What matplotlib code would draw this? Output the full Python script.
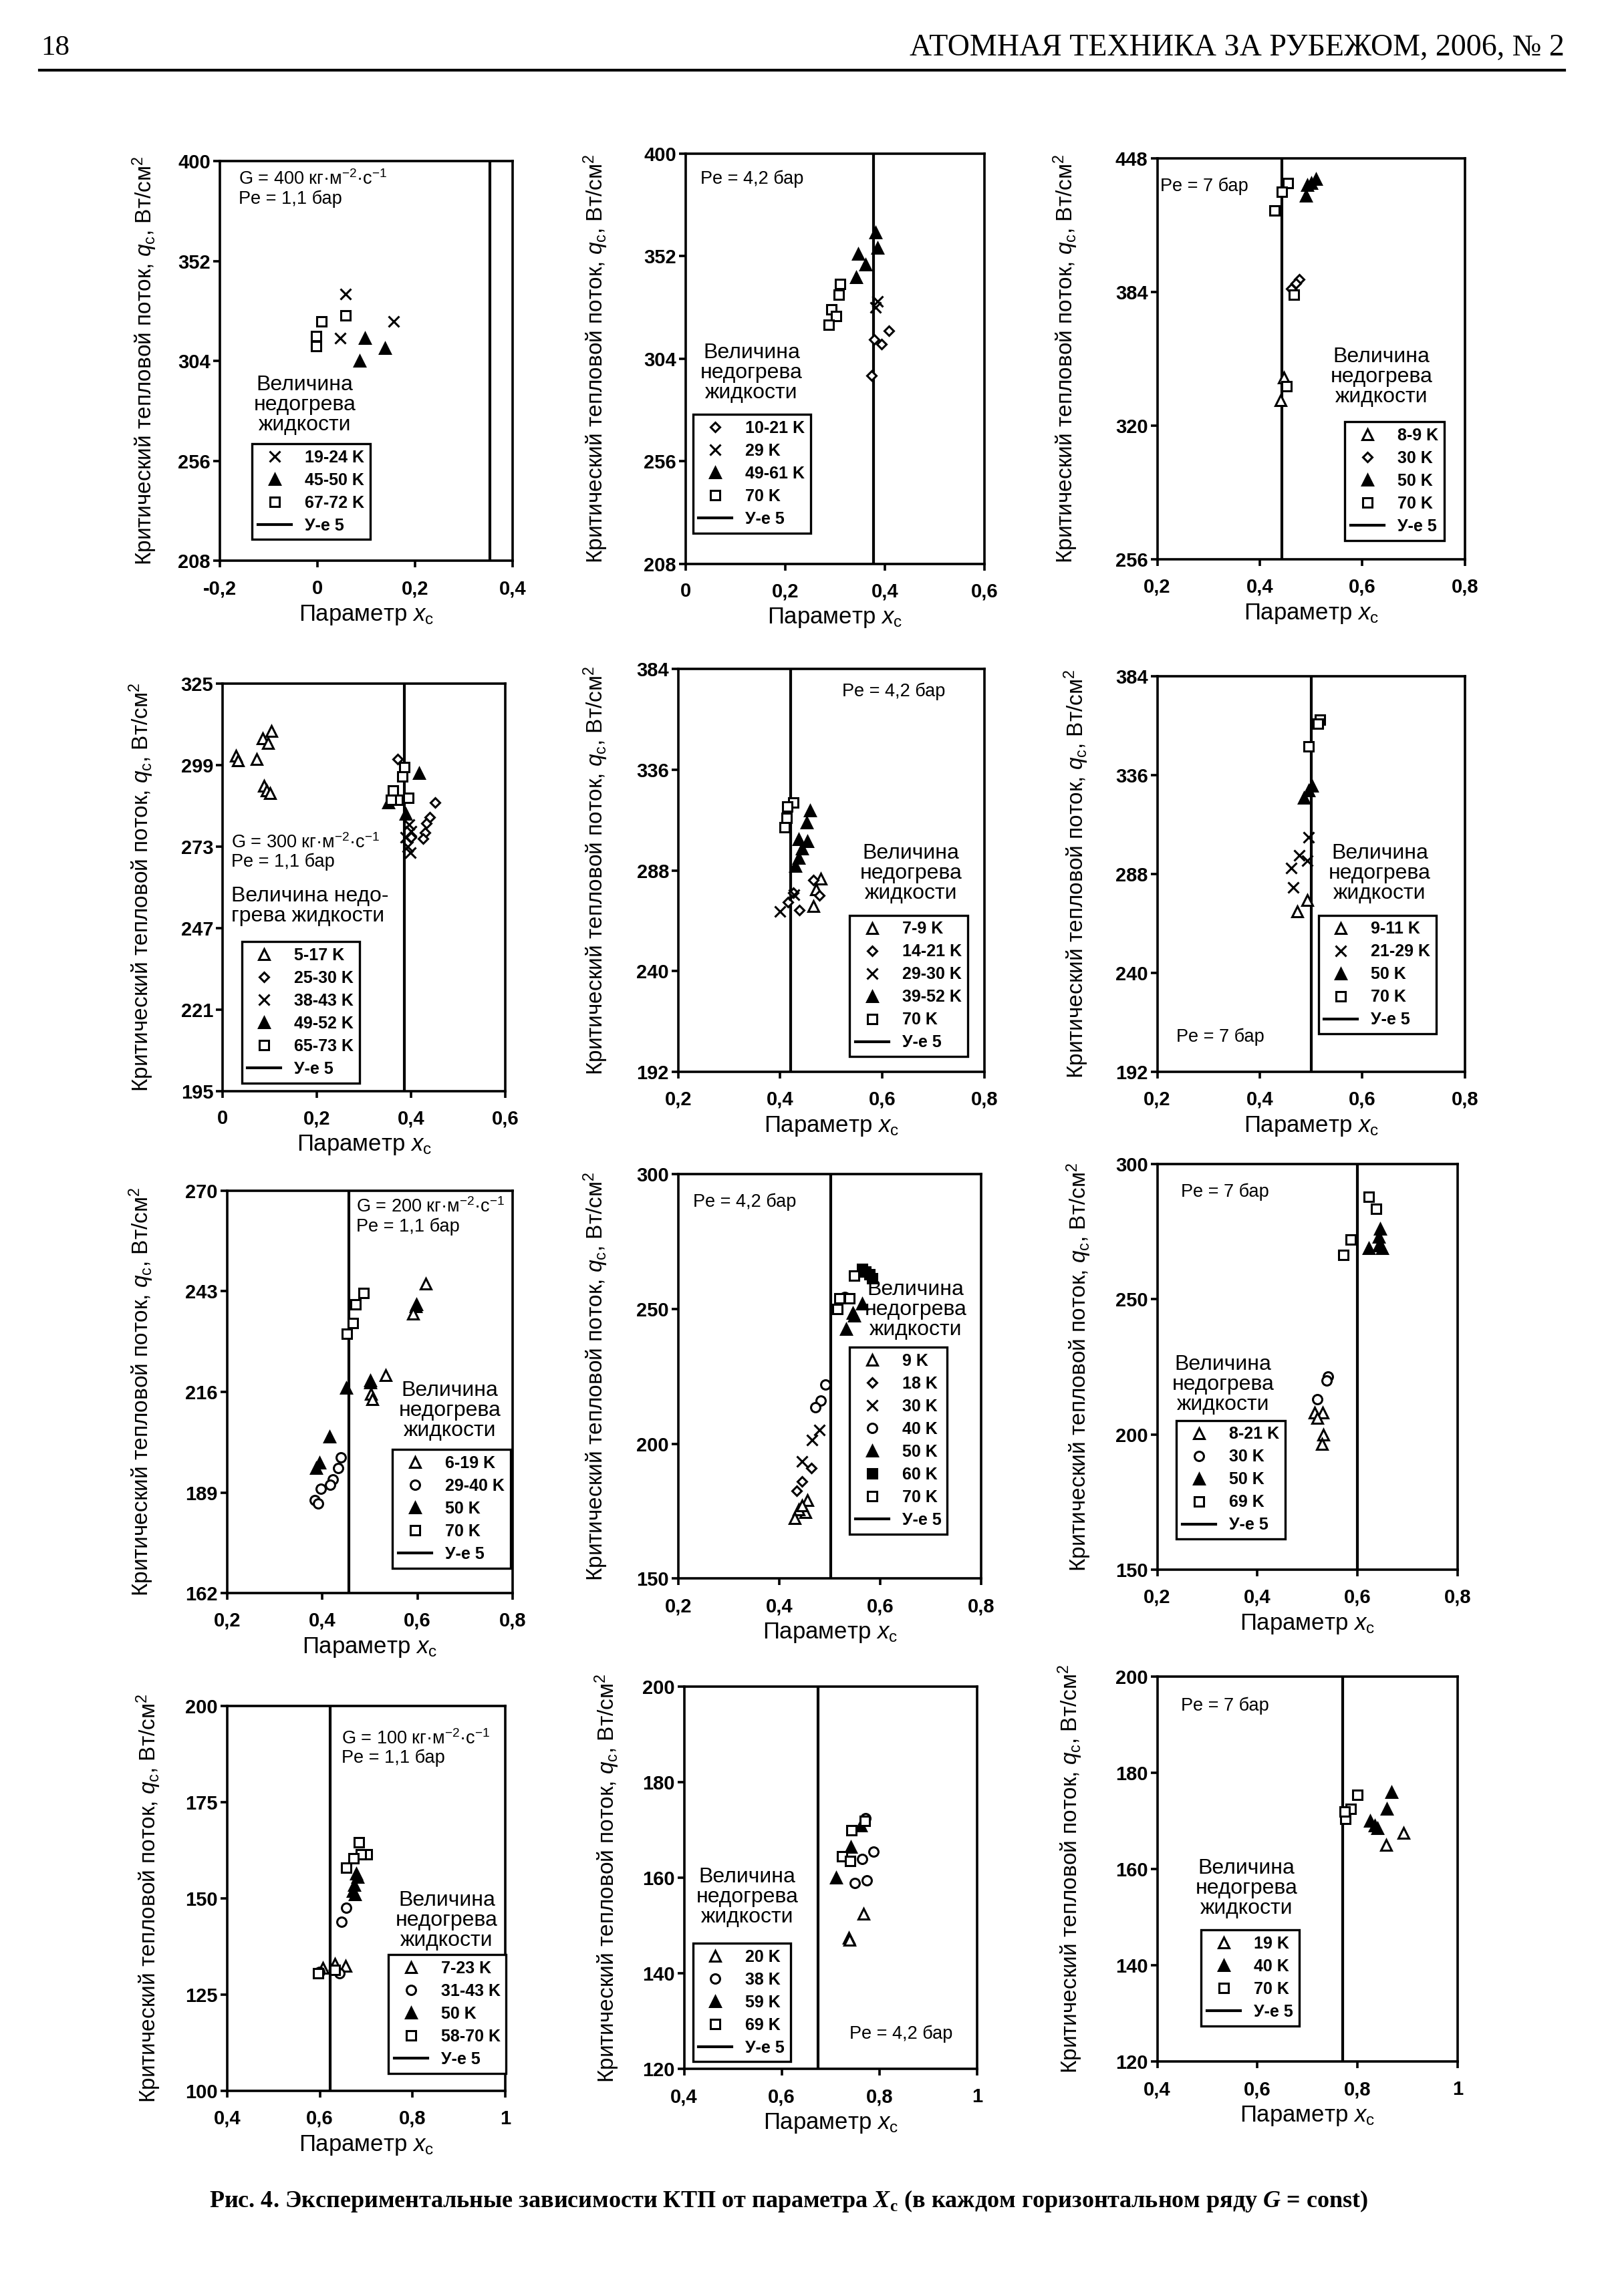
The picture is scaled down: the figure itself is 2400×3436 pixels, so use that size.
import matplotlib
matplotlib.use("Agg")
import matplotlib.pyplot as plt
from matplotlib.lines import Line2D

plt.rcParams.update({
    "font.family": ["Liberation Sans", "DejaVu Sans"],
    "mathtext.fontset": "custom",
    "mathtext.rm": "Liberation Sans",
    "mathtext.it": "Liberation Sans:italic",
    "mathtext.bf": "Liberation Serif:bold",
    "mathtext.bfit": "Liberation Serif:bold:italic",
})

# ------------------------------------------------------------------ data
# Panel 1: G = 400, Pe = 1.1 bar
p1_eq5 = 0.353
p1_x_cross = [0.057, 0.156, 0.047]
p1_q_cross = [336, 323, 315]
p1_x_trif = [0.098, 0.138, 0.086]
p1_q_trif = [315, 310, 304]
p1_x_sq = [0.009, -0.002, -0.002, 0.057]
p1_q_sq = [323, 316, 311, 326]

# Panel 2: G = 400, Pe = 4.2 bar
p2_eq5 = 0.377
p2_x_dia = [0.408, 0.379, 0.393, 0.373]
p2_q_dia = [317, 313, 311, 296]
p2_x_cross = [0.386, 0.381]
p2_q_cross = [331, 328]
p2_x_trif = [0.381, 0.385, 0.347, 0.361, 0.343]
p2_q_trif = [363, 356, 353, 348, 342]
p2_x_sq = [0.310, 0.307, 0.293, 0.302, 0.287]
p2_q_sq = [339, 334, 327, 324, 320]

# Panel 3: G = 400, Pe = 7 bar
p3_eq5 = 0.443
p3_x_trio = [0.447, 0.441]
p3_q_trio = [343, 332]
p3_x_dia = [0.477, 0.470, 0.462]
p3_q_dia = [390, 388, 385.5]
p3_x_trif = [0.509, 0.500, 0.492, 0.490]
p3_q_trif = [438, 436, 435, 430]
p3_x_sq = [0.455, 0.443, 0.429, 0.466, 0.452]
p3_q_sq = [436, 432, 423, 382.5, 339]

# Panel 4: G = 300, Pe = 1.1 bar
p4_eq5 = 0.386
p4_x_trio = [0.028, 0.032, 0.072, 0.085, 0.096, 0.103, 0.088, 0.094, 0.100]
p4_q_trio = [302, 300.5, 301, 307.5, 306, 310, 292.5, 291, 290]
p4_x_dia = [0.451, 0.440, 0.433, 0.430, 0.425, 0.371, 0.400]
p4_q_dia = [287, 282.5, 280.5, 277.5, 275.5, 301, 276]
p4_x_cross = [0.395, 0.400, 0.388, 0.398, 0.392]
p4_q_cross = [280, 278, 276, 271, 273]
p4_x_trif = [0.417, 0.388, 0.352]
p4_q_trif = [296.5, 283.5, 287]
p4_x_sq = [0.386, 0.382, 0.362, 0.371, 0.357, 0.394]
p4_q_sq = [298.5, 295.5, 291, 288, 288, 288.5]

# Panel 5: G = 300, Pe = 4.2 bar
p5_eq5 = 0.420
p5_x_trio = [0.479, 0.470, 0.465]
p5_q_trio = [284, 279, 271]
p5_x_dia = [0.465, 0.476, 0.426, 0.415, 0.437]
p5_q_dia = [283.5, 276, 277.5, 273, 269]
p5_x_cross = [0.400, 0.427]
p5_q_cross = [268.5, 276.5]
p5_x_trif = [0.458, 0.452, 0.436, 0.453, 0.443, 0.436, 0.430]
p5_q_trif = [316.5, 311, 303, 302, 298.5, 294, 290]
p5_x_sq = [0.426, 0.414, 0.413, 0.408]
p5_q_sq = [320.5, 318.5, 313, 308.5]

# Panel 6: G = 300, Pe = 7 bar
p6_eq5 = 0.501
p6_x_trio = [0.492, 0.473]
p6_q_trio = [275.5, 270]
p6_x_cross = [0.495, 0.477, 0.493, 0.462, 0.465]
p6_q_cross = [306, 297, 294.5, 291, 281.5]
p6_x_trif = [0.502, 0.495, 0.486]
p6_q_trif = [331, 328.5, 325]
p6_x_sq = [0.518, 0.514, 0.495]
p6_q_sq = [363, 361, 350]

# Panel 7: G = 200, Pe = 1.1 bar
p7_eq5 = 0.456
p7_x_trio = [0.617, 0.596, 0.590, 0.533, 0.501, 0.502, 0.505]
p7_q_trio = [245, 239, 237, 220.5, 218.5, 215.5, 214]
p7_x_circ = [0.439, 0.434, 0.422, 0.417, 0.397, 0.384, 0.392]
p7_q_circ = [198.5, 195.5, 192.5, 191, 190, 187, 186]
p7_x_trif = [0.598, 0.450, 0.415, 0.394, 0.387, 0.501]
p7_q_trif = [239.5, 217, 204, 197, 195.5, 219]
p7_x_sq = [0.487, 0.470, 0.465, 0.451]
p7_q_sq = [242.5, 239.5, 234.5, 231.5]

# Panel 8: G = 200, Pe = 4.2 bar
p8_eq5 = 0.502
p8_x_trio = [0.456, 0.452, 0.438, 0.431, 0.445]
p8_q_trio = [179, 174.5, 175.5, 172.5, 177]
p8_x_dia = [0.463, 0.445, 0.434]
p8_q_dia = [191, 186, 182.5]
p8_x_cross = [0.479, 0.465, 0.445]
p8_q_cross = [205, 201.5, 193.5]
p8_x_circ = [0.491, 0.482, 0.472, 0.530]
p8_q_circ = [222, 216, 213.5, 254.5]
p8_x_trif = [0.564, 0.546, 0.548, 0.532]
p8_q_trif = [252, 248.5, 247.5, 242.5]
p8_x_sqf = [0.564, 0.571, 0.578, 0.584]
p8_q_sqf = [265, 264, 263, 261.5]
p8_x_sq = [0.548, 0.519, 0.539, 0.515]
p8_q_sq = [262.5, 254, 254, 250]

# Panel 9: G = 200, Pe = 7 bar
p9_eq5 = 0.600
p9_x_trio = [0.515, 0.530, 0.520, 0.532, 0.529]
p9_q_trio = [208, 208, 206, 200, 196.5]
p9_x_circ = [0.541, 0.538, 0.520]
p9_q_circ = [221.5, 220, 213]
p9_x_trif = [0.646, 0.642, 0.643, 0.623, 0.649]
p9_q_trif = [276, 273, 270, 269, 269]
p9_x_sq = [0.623, 0.637, 0.586, 0.572]
p9_q_sq = [288, 283.5, 272, 266.5]

# Panel 10: G = 100, Pe = 1.1 bar
p10_eq5 = 0.622
p10_x_trio = [0.606, 0.633, 0.655]
p10_q_trio = [132, 133, 132.5]
p10_x_circ = [0.657, 0.647, 0.599, 0.642]
p10_q_circ = [147.5, 144, 131, 130.5]
p10_x_trif = [0.679, 0.682, 0.674, 0.671, 0.676]
p10_q_trif = [156.5, 155.5, 153.5, 152, 151]
p10_x_sq = [0.684, 0.702, 0.689, 0.672, 0.657, 0.633, 0.597]
p10_q_sq = [164.5, 161.5, 161.5, 160.5, 158, 131.5, 130.5]

# Panel 11: G = 100, Pe = 4.2 bar
p11_eq5 = 0.675
p11_x_trio = [0.768, 0.737, 0.738]
p11_q_trio = [152.5, 147.5, 147]
p11_x_circ = [0.788, 0.765, 0.750, 0.774, 0.771]
p11_q_circ = [165.5, 164, 159, 159.5, 172.5]
p11_x_trif = [0.742, 0.711, 0.762]
p11_q_trif = [166.5, 160, 171]
p11_x_sq = [0.770, 0.743, 0.724, 0.740]
p11_q_sq = [172, 170, 164.5, 163.5]

# Panel 12: G = 100, Pe = 7 bar
p12_eq5 = 0.770
p12_x_trio = [0.892, 0.857]
p12_q_trio = [167.5, 165]
p12_x_trif = [0.868, 0.859, 0.825, 0.834, 0.840]
p12_q_trif = [176, 172.5, 170, 169, 168.5]
p12_x_sq = [0.800, 0.786, 0.776, 0.775]
p12_q_sq = [175.5, 172.5, 170.5, 172]

# axis scales
x_ticks_a = [-0.2, 0.0, 0.2, 0.4]
x_ticks_b = [0.0, 0.2, 0.4, 0.6]
x_ticks_c = [0.2, 0.4, 0.6, 0.8]
x_ticks_d = [0.4, 0.6, 0.8, 1.0]
y_ticks_1 = [208, 256, 304, 352, 400]
y_ticks_3 = [256, 320, 384, 448]
y_ticks_4 = [195, 221, 247, 273, 299, 325]
y_ticks_5 = [192, 240, 288, 336, 384]
y_ticks_7 = [162, 189, 216, 243, 270]
y_ticks_8 = [150, 200, 250, 300]
y_ticks_10 = [100, 125, 150, 175, 200]
y_ticks_11 = [120, 140, 160, 180, 200]

T3 = "Величина\nнедогрева\nжидкости"
PANELS = [
    dict(xt=x_ticks_a, yt=y_ticks_1, eq5=p1_eq5,
         note="G = 400 кг·м$^{-2}$·с$^{-1}$\nPe = 1,1 бар", title=T3,
         series=[("19-24 K", "cross", p1_x_cross, p1_q_cross),
                 ("45-50 K", "trif", p1_x_trif, p1_q_trif),
                 ("67-72 K", "sq", p1_x_sq, p1_q_sq)]),
    dict(xt=x_ticks_b, yt=y_ticks_1, eq5=p2_eq5, note="Pe = 4,2 бар", title=T3,
         series=[("10-21 K", "dia", p2_x_dia, p2_q_dia),
                 ("29 K", "cross", p2_x_cross, p2_q_cross),
                 ("49-61 K", "trif", p2_x_trif, p2_q_trif),
                 ("70 K", "sq", p2_x_sq, p2_q_sq)]),
    dict(xt=x_ticks_c, yt=y_ticks_3, eq5=p3_eq5, note="Pe = 7 бар", title=T3,
         series=[("8-9 K", "trio", p3_x_trio, p3_q_trio),
                 ("30 K", "dia", p3_x_dia, p3_q_dia),
                 ("50 K", "trif", p3_x_trif, p3_q_trif),
                 ("70 K", "sq", p3_x_sq, p3_q_sq)]),
    dict(xt=x_ticks_b, yt=y_ticks_4, eq5=p4_eq5,
         note="G = 300 кг·м$^{-2}$·с$^{-1}$\nPe = 1,1 бар",
         title="Величина недо-\nгрева жидкости",
         series=[("5-17 K", "trio", p4_x_trio, p4_q_trio),
                 ("25-30 K", "dia", p4_x_dia, p4_q_dia),
                 ("38-43 K", "cross", p4_x_cross, p4_q_cross),
                 ("49-52 K", "trif", p4_x_trif, p4_q_trif),
                 ("65-73 K", "sq", p4_x_sq, p4_q_sq)]),
    dict(xt=x_ticks_c, yt=y_ticks_5, eq5=p5_eq5, note="Pe = 4,2 бар", title=T3,
         series=[("7-9 K", "trio", p5_x_trio, p5_q_trio),
                 ("14-21 K", "dia", p5_x_dia, p5_q_dia),
                 ("29-30 K", "cross", p5_x_cross, p5_q_cross),
                 ("39-52 K", "trif", p5_x_trif, p5_q_trif),
                 ("70 K", "sq", p5_x_sq, p5_q_sq)]),
    dict(xt=x_ticks_c, yt=y_ticks_5, eq5=p6_eq5, note="Pe = 7 бар", title=T3,
         series=[("9-11 K", "trio", p6_x_trio, p6_q_trio),
                 ("21-29 K", "cross", p6_x_cross, p6_q_cross),
                 ("50 K", "trif", p6_x_trif, p6_q_trif),
                 ("70 K", "sq", p6_x_sq, p6_q_sq)]),
    dict(xt=x_ticks_c, yt=y_ticks_7, eq5=p7_eq5,
         note="G = 200 кг·м$^{-2}$·с$^{-1}$\nPe = 1,1 бар", title=T3,
         series=[("6-19 K", "trio", p7_x_trio, p7_q_trio),
                 ("29-40 K", "circ", p7_x_circ, p7_q_circ),
                 ("50 K", "trif", p7_x_trif, p7_q_trif),
                 ("70 K", "sq", p7_x_sq, p7_q_sq)]),
    dict(xt=x_ticks_c, yt=y_ticks_8, eq5=p8_eq5, note="Pe = 4,2 бар", title=T3,
         series=[("9 K", "trio", p8_x_trio, p8_q_trio),
                 ("18 K", "dia", p8_x_dia, p8_q_dia),
                 ("30 K", "cross", p8_x_cross, p8_q_cross),
                 ("40 K", "circ", p8_x_circ, p8_q_circ),
                 ("50 K", "trif", p8_x_trif, p8_q_trif),
                 ("60 K", "sqf", p8_x_sqf, p8_q_sqf),
                 ("70 K", "sq", p8_x_sq, p8_q_sq)]),
    dict(xt=x_ticks_c, yt=y_ticks_8, eq5=p9_eq5, note="Pe = 7 бар", title=T3,
         series=[("8-21 K", "trio", p9_x_trio, p9_q_trio),
                 ("30 K", "circ", p9_x_circ, p9_q_circ),
                 ("50 K", "trif", p9_x_trif, p9_q_trif),
                 ("69 K", "sq", p9_x_sq, p9_q_sq)]),
    dict(xt=x_ticks_d, yt=y_ticks_10, eq5=p10_eq5,
         note="G = 100 кг·м$^{-2}$·с$^{-1}$\nPe = 1,1 бар", title=T3,
         series=[("7-23 K", "trio", p10_x_trio, p10_q_trio),
                 ("31-43 K", "circ", p10_x_circ, p10_q_circ),
                 ("50 K", "trif", p10_x_trif, p10_q_trif),
                 ("58-70 K", "sq", p10_x_sq, p10_q_sq)]),
    dict(xt=x_ticks_d, yt=y_ticks_11, eq5=p11_eq5, note="Pe = 4,2 бар", title=T3,
         series=[("20 K", "trio", p11_x_trio, p11_q_trio),
                 ("38 K", "circ", p11_x_circ, p11_q_circ),
                 ("59 K", "trif", p11_x_trif, p11_q_trif),
                 ("69 K", "sq", p11_x_sq, p11_q_sq)]),
    dict(xt=x_ticks_d, yt=y_ticks_11, eq5=p12_eq5, note="Pe = 7 бар", title=T3,
         series=[("19 K", "trio", p12_x_trio, p12_q_trio),
                 ("40 K", "trif", p12_x_trif, p12_q_trif),
                 ("70 K", "sq", p12_x_sq, p12_q_sq)]),
]

# ------------------------------------------------------------------ layout
# positions in a 1095 x 1568 reference frame
REF_W, REF_H = 1095.0, 1568.0
LAYOUT = [
    # box(l, r, t, b), legend UL, title (x, top, ha), note (x, top), ylabel right edge
    dict(box=(150, 350, 110, 383), leg=(172, 303), tit=(208, 256, "center"), note=(163, 116), yl=108),
    dict(box=(468, 672, 105, 385), leg=(473, 283), tit=(513, 234, "center"), note=(478, 116), yl=416),
    dict(box=(790, 1000, 108, 382), leg=(918, 288), tit=(943, 237, "center"), note=(792, 121), yl=737),
    dict(box=(152, 345, 467, 745), leg=(165, 643), tit=(158, 605, "left"), note=(158, 569), yl=106),
    dict(box=(463, 672, 457, 732), leg=(580, 625), tit=(622, 576, "center"), note=(575, 466), yl=416),
    dict(box=(790, 1000, 462, 732), leg=(900, 625), tit=(942, 576, "center"), note=(803, 702), yl=744),
    dict(box=(155, 350, 813, 1088), leg=(268, 990), tit=(307, 943, "center"), note=(243, 818), yl=106),
    dict(box=(463, 670, 802, 1078), leg=(580, 920), tit=(625, 874, "center"), note=(473, 815), yl=416),
    dict(box=(790, 995, 795, 1072), leg=(803, 970), tit=(835, 925, "center"), note=(806, 808), yl=746),
    dict(box=(155, 345, 1165, 1428), leg=(265, 1335), tit=(305, 1291, "center"), note=(233, 1181), yl=111),
    dict(box=(467, 667, 1152, 1413), leg=(473, 1327), tit=(510, 1275, "center"), note=(580, 1383), yl=424),
    dict(box=(790, 995, 1145, 1408), leg=(820, 1318), tit=(851, 1269, "center"), note=(806, 1159), yl=740),
]

STYLE = {
    "trio": dict(marker="^", mfc="white", ms=12),
    "trif": dict(marker="^", mfc="black", ms=12),
    "sq": dict(marker="s", mfc="white", ms=10),
    "sqf": dict(marker="s", mfc="black", ms=10),
    "cross": dict(marker="x", mfc="black", ms=11),
    "dia": dict(marker="D", mfc="white", ms=7.5),
    "circ": dict(marker="o", mfc="white", ms=10),
}

YLABEL = "Критический тепловой поток, $q_\\mathrm{c}$, Вт/см$^2$"
XLABEL = "Параметр $x_\\mathrm{c}$"


def fmt(v):
    s = f"{v:g}".replace(".", ",")
    return s


fig = plt.figure(figsize=(24, 34.36), dpi=100)

for P, L in zip(PANELS, LAYOUT):
    l, r, t, b = L["box"]
    w, h = r - l, b - t
    ax = fig.add_axes([l / REF_W, 1 - b / REF_H, w / REF_W, h / REF_H])
    ax.set_xlim(P["xt"][0], P["xt"][-1])
    ax.set_ylim(P["yt"][0], P["yt"][-1])
    ax.set_xticks(P["xt"])
    ax.set_xticklabels([fmt(v) for v in P["xt"]])
    ax.set_yticks(P["yt"])
    ax.set_yticklabels([str(v) for v in P["yt"]])
    for s in ax.spines.values():
        s.set_linewidth(2.6)
    ax.tick_params(axis="both", direction="out", length=7, width=2.6,
                   labelsize=21, top=False, right=False)
    ax.tick_params(axis="x", pad=13)
    ax.tick_params(axis="y", pad=3)
    for lab in ax.get_xticklabels() + ax.get_yticklabels():
        lab.set_fontweight("bold")

    handles, labels = [], []
    for lab, key, xs, qs in P["series"]:
        st = STYLE[key]
        hnd, = ax.plot(xs, qs, ls="none", marker=st["marker"], ms=st["ms"],
                       mfc=st["mfc"], mec="black", mew=2.2, color="black", zorder=3)
        handles.append(hnd)
        labels.append(lab)
    ln = ax.axvline(P["eq5"], color="black", lw=3.0, zorder=2)
    handles.append(ln)
    labels.append("У-е 5")

    lx, ly = L["leg"]
    leg = ax.legend(handles, labels, loc="upper left",
                    bbox_to_anchor=((lx - l) / w, (b - ly) / h),
                    frameon=True, fancybox=False, framealpha=1, edgecolor="black",
                    borderpad=0.35, labelspacing=0.4, handlelength=2.0,
                    handletextpad=0.8, borderaxespad=0, numpoints=1,
                    prop=dict(weight="bold", size=18))
    leg.get_frame().set_linewidth(2.4)

    tx, ty, tha = L["tit"]
    ax.text((tx - l) / w, (b - ty) / h, P["title"], transform=ax.transAxes,
            ha=tha, va="top", fontsize=23, linespacing=1.0, zorder=4)
    nx, ny = L["note"]
    ax.text((nx - l) / w, (b - ny) / h, P["note"], transform=ax.transAxes,
            ha="left", va="top", fontsize=19.5, linespacing=1.1, zorder=4)

    ax.set_ylabel(YLABEL, fontsize=24)
    ax.yaxis.set_label_coords((L["yl"] - l) / w, 0.5)
    ax.set_xlabel(XLABEL, fontsize=25)
    ax.xaxis.set_label_coords(0.5, -29.0 / h)

# header
fig.text(61 / 2400, 1 - 72 / 3436, "18", fontsize=31, family="Liberation Serif",
         ha="left", va="center")
fig.text(2341 / 2400, 1 - 72 / 3436, "АТОМНАЯ ТЕХНИКА ЗА РУБЕЖОМ, 2006, № 2",
         fontsize=33, family="Liberation Serif", ha="right", va="center")
fig.add_artist(Line2D([59 / 2400, 2341 / 2400], [1 - 105 / 3436] * 2,
                      color="black", lw=3))

# caption
fig.text(313 / 2400, 1 - 3294 / 3436,
         "Рис. 4. Экспериментальные зависимости КТП от параметра "
         "$\\mathbfit{X}_\\mathbf{c}$ (в каждом горизонтальном ряду $\\mathbfit{G}$ = const)",
         fontsize=26, family="Liberation Serif", fontweight="bold",
         ha="left", va="center")

fig.savefig("out.png", dpi=100, facecolor="white")
